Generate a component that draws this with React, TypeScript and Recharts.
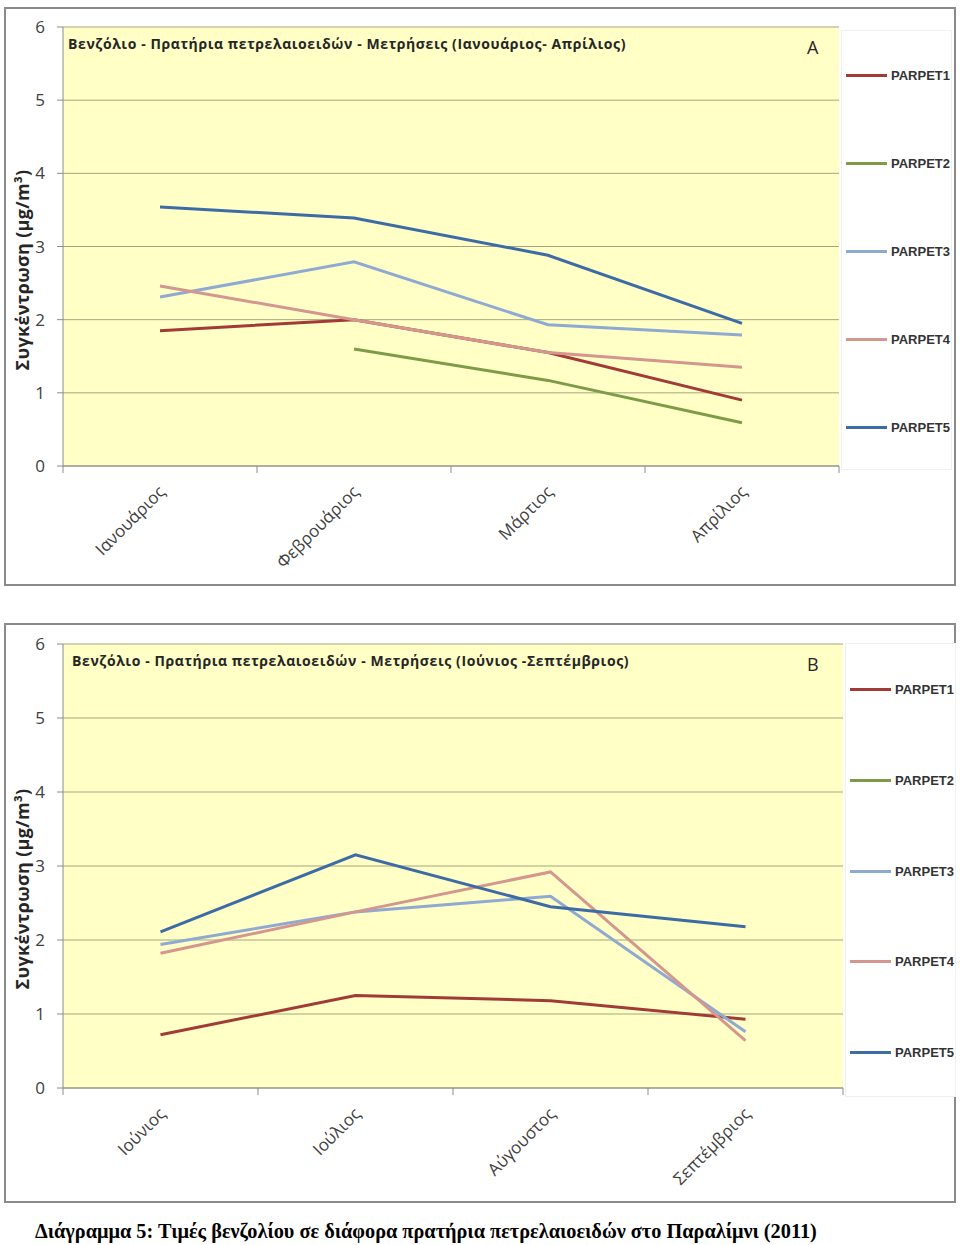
import { LineChart, Line, XAxis, YAxis, CartesianGrid } from 'recharts'

const monthsA = ['Ιανουάριος', 'Φεβρουάριος', 'Μάρτιος', 'Απρίλιος']
const monthsB = ['Ιούνιος', 'Ιούλιος', 'Αύγουστος', 'Σεπτέμβριος']

const seriesNames = ['PARPET1', 'PARPET2', 'PARPET3', 'PARPET4', 'PARPET5']
const seriesColors = ['#A23B37', '#7E9C48', '#8EAAD2', '#D4968F', '#3C6BA5']

// Ιανουάριος - Απρίλιος
const parpet1A = [1.85, 2.0, 1.55, 0.9]
const parpet2A = [null, 1.6, 1.17, 0.59]
const parpet3A = [2.31, 2.79, 1.93, 1.79]
const parpet4A = [2.46, 2.0, 1.55, 1.35]
const parpet5A = [3.54, 3.39, 2.88, 1.95]

// Ιούνιος - Σεπτέμβριος
const parpet1B = [0.72, 1.25, 1.18, 0.93]
const parpet2B = [null, null, null, null]
const parpet3B = [1.94, 2.38, 2.59, 0.76]
const parpet4B = [1.82, 2.38, 2.92, 0.64]
const parpet5B = [2.11, 3.15, 2.45, 2.18]

const yTicks = [0, 1, 2, 3, 4, 5, 6]

const titleA = 'Βενζόλιο - Πρατήρια πετρελαιοειδών - Μετρήσεις (Ιανουάριος- Απρίλιος)'
const titleB = 'Βενζόλιο - Πρατήρια πετρελαιοειδών - Μετρήσεις (Ιούνιος -Σεπτέμβριος)'
const yLabel = 'Συγκέντρωση (μg/m³)'
const caption = 'Διάγραμμα 5: Τιμές βενζολίου σε διάφορα πρατήρια πετρελαιοειδών στο Παραλίμνι (2011)'

const buildRows = (months: string[], cols: (number | null)[][]) =>
  months.map((m, i) => {
    const row: Record<string, string | number | null> = { month: m }
    seriesNames.forEach((s, j) => { row[s] = cols[j][i] })
    return row
  })

const rowsA = buildRows(monthsA, [parpet1A, parpet2A, parpet3A, parpet4A, parpet5A])
const rowsB = buildRows(monthsB, [parpet1B, parpet2B, parpet3B, parpet4B, parpet5B])

const FONT = '"Open Sans", "DejaVu Sans", sans-serif'
const CHART_W = 960
const CHART_H = 600

interface PanelProps {
  rows: Record<string, string | number | null>[]
  top: number
  right: number
  xAxisH: number
  frame: { top: number; height: number }
  legend: { top: number; height: number }
  title: string
  titleLeft: number
  letter: string
}

function Panel({ rows, top, right, xAxisH, frame, legend, title, titleLeft, letter }: PanelProps) {
  const plotLeft = 63
  const plotW = CHART_W - right - plotLeft
  const band = plotW / rows.length
  const plotTop = top + 27
  const plotBottom = top + CHART_H - xAxisH
  const step = legend.height / seriesNames.length

  const XTick = (props: any) => {
    const { x, y, payload, index } = props
    return (
      <g>
        <line x1={x - band / 2} y1={y} x2={x - band / 2} y2={y + 7} stroke="#8c8c8c" />
        {index === rows.length - 1 && (
          <line x1={x + band / 2} y1={y} x2={x + band / 2} y2={y + 7} stroke="#8c8c8c" />
        )}
        <text
          x={x + 6}
          y={y + 27}
          textAnchor="end"
          transform={`rotate(-45, ${x + 6}, ${y + 27})`}
          fontSize={17}
          fill="#404040"
          fontFamily={FONT}
        >
          {payload.value}
        </text>
      </g>
    )
  }

  return (
    <>
      <div style={{ position: 'absolute', left: 4, top: frame.top, width: 952, height: frame.height, border: '2px solid #8a8a8a', boxSizing: 'border-box' }} />
      <div style={{ position: 'absolute', left: 0, top }}>
        <LineChart width={CHART_W} height={CHART_H} data={rows} margin={{ top: 27, right, left: 13, bottom: 0 }}>
          <CartesianGrid vertical={false} stroke="#a6a67e" fill="#FFFFC6" />
          <XAxis
            dataKey="month"
            type="category"
            scale="point"
            padding={{ left: band / 2, right: band / 2 }}
            height={xAxisH}
            tickLine={false}
            tickSize={0}
            tickMargin={0}
            interval={0}
            stroke="#8c8c8c"
            tick={<XTick />}
          />
          <YAxis
            domain={[0, 6]}
            ticks={yTicks}
            width={50}
            tickSize={6}
            tickMargin={12}
            stroke="#8c8c8c"
            tick={{ fontSize: 17, fill: '#404040', fontFamily: FONT }}
          />
          {seriesNames.map((s, i) => (
            <Line
              key={s}
              dataKey={s}
              stroke={seriesColors[i]}
              strokeWidth={3}
              dot={false}
              activeDot={false}
              isAnimationActive={false}
              type="linear"
            />
          ))}
        </LineChart>
      </div>
      <div style={{ position: 'absolute', left: titleLeft, top: plotTop + 7, fontFamily: FONT, fontWeight: 700, fontSize: 14, letterSpacing: 0.6, color: '#262626', whiteSpace: 'nowrap' }}>
        {title}
      </div>
      <div style={{ position: 'absolute', left: 807, top: plotTop + 8, fontFamily: FONT, fontSize: 18, color: '#262626' }}>
        {letter}
      </div>
      <div
        style={{
          position: 'absolute',
          left: 22,
          top: (plotTop + plotBottom) / 2 + 23,
          transform: 'translate(-50%, -50%) rotate(-90deg)',
          fontFamily: FONT,
          fontWeight: 700,
          fontSize: 18,
          letterSpacing: 0.3,
          color: '#262626',
          whiteSpace: 'nowrap',
        }}
      >
        {yLabel}
      </div>
      <div style={{ position: 'absolute', left: CHART_W - right + 2, top: legend.top, width: 111, height: legend.height, border: '1px solid #f0f0f0', background: '#fff', boxSizing: 'border-box' }}>
        {seriesNames.map((s, i) => (
          <div key={s} style={{ position: 'absolute', left: 4, top: step * i + step / 2 - 9, height: 18, display: 'flex', alignItems: 'center' }}>
            <span style={{ display: 'inline-block', width: 41, height: 3, background: seriesColors[i] }} />
            <span style={{ marginLeft: 4, fontFamily: '"Liberation Sans Narrow", "Liberation Sans", sans-serif', fontWeight: 700, fontSize: 13, color: '#333' }}>{s}</span>
          </div>
        ))}
      </div>
    </>
  )
}

export default function App() {
  return (
    <div style={{ position: 'absolute', left: 0, top: 0, width: 960, height: 1245, background: '#fff' }}>
      <Panel
        rows={rowsA}
        top={0}
        right={121}
        xAxisH={134}
        frame={{ top: 7, height: 579 }}
        legend={{ top: 30, height: 440 }}
        title={titleA}
        titleLeft={68}
        letter="A"
      />
      <Panel
        rows={rowsB}
        top={617}
        right={117}
        xAxisH={129}
        frame={{ top: 623, height: 580 }}
        legend={{ top: 643, height: 454 }}
        title={titleB}
        titleLeft={72}
        letter="B"
      />
      <div
        style={{
          position: 'absolute',
          left: 35,
          top: 1220,
          fontFamily: '"Liberation Serif", "DejaVu Serif", serif',
          fontWeight: 700,
          fontSize: 20.3,
          color: '#000',
          whiteSpace: 'nowrap',
        }}
      >
        {caption}
      </div>
    </div>
  )
}
